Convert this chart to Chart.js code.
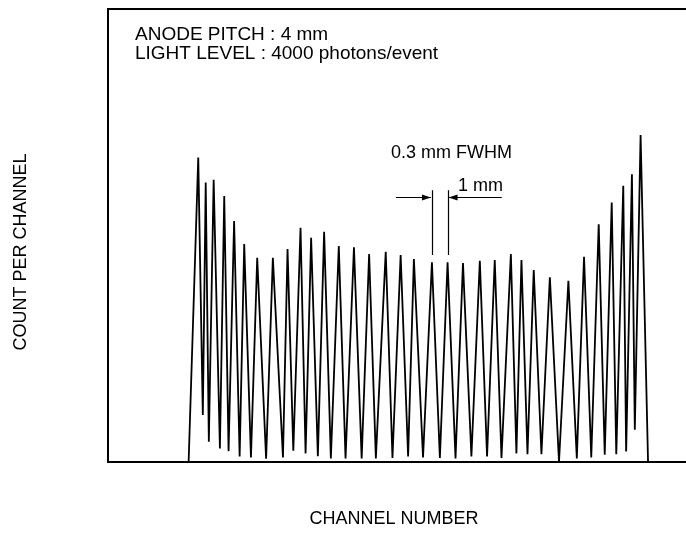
<!DOCTYPE html>
<html>
<head>
<meta charset="utf-8">
<script src="https://cdn.jsdelivr.net/npm/chart.js@4/dist/chart.umd.min.js"></script>
<style>
  html, body { margin: 0; padding: 0; background: #fff; overflow: hidden; }
  canvas { display: block; }
</style>
</head>
<body>
<canvas id="spectrum" width="690" height="536"></canvas>
<script>
const FONT = "'Liberation Sans', Arial, Helvetica, sans-serif"

// channel positions of every turning point of the trace (peaks and valleys)
const channels = [
  33.5, 37.5, 39.4, 40.6, 41.9, 43.9, 46.5, 48.3, 50.1, 52.4,
  54.7, 56.6, 59.4, 62.0, 65.7, 68.5, 72.7, 74.6, 77.0, 80.0,
  82.1, 84.4, 87.2, 89.8, 92.6, 95.9, 98.7, 102.2, 105.4, 108.5,
  111.3, 115.4, 118.2, 121.6, 124.7, 127.1, 130.9, 134.6, 137.9, 141.1,
  144.4, 147.5, 151.0, 154.5, 157.5, 160.7, 163.5, 167.4, 169.7, 171.8,
  174.3, 176.9, 180.1, 183.6, 187.4, 191.3, 194.8, 197.8, 200.8, 203.9,
  206.4, 209.3, 211.2, 214.1, 215.3, 217.7, 218.9, 221.3, 224.4,
]
const counts = [
  0, 672, 104, 617, 45, 623, 30, 587, 24, 532,
  12, 481, 10, 451, 7, 451, 10, 470, 25, 517,
  19, 495, 13, 508, 8, 477, 8, 474, 8, 459,
  8, 464, 9, 457, 12, 448, 10, 441, 9, 441,
  8, 439, 12, 444, 12, 446, 9, 459, 19, 446,
  17, 424, 17, 408, 0, 400, 8, 453, 10, 525,
  16, 573, 17, 610, 23, 635, 71, 722, 0,
]

// FWHM marker: two neighbouring peaks and the arrows pointing at them
const markerChannels = [134.6, 141.1]
const markerRange = [457, 600]
const arrowLevel = 584
const arrowTails = [119.6, 163.6]

const headerLines = ['ANODE PITCH : 4 mm', 'LIGHT LEVEL : 4000 photons/event']

const framePlugin = {
  id: 'frame',
  afterDraw: chart => {
    const { ctx, chartArea: a, scales } = chart
    const x = scales.x
    const y = scales.y
    ctx.save()
    ctx.strokeStyle = '#000'
    ctx.lineWidth = 2
    ctx.strokeRect(a.left, a.top, a.right - a.left, a.bottom - a.top)

    // marker lines
    ctx.lineWidth = 1.2
    markerChannels.forEach(c => {
      const px = Math.round(x.getPixelForValue(c)) + 0.5
      ctx.beginPath()
      ctx.moveTo(px, y.getPixelForValue(markerRange[1]))
      ctx.lineTo(px, y.getPixelForValue(markerRange[0]))
      ctx.stroke()
    })
    const ay = Math.round(y.getPixelForValue(arrowLevel)) + 0.5
    arrowTails.forEach((c, i) => {
      const tail = x.getPixelForValue(c)
      const tip = x.getPixelForValue(markerChannels[i]) + (i === 0 ? -1 : 1)
      const dir = tip > tail ? 1 : -1
      ctx.beginPath()
      ctx.moveTo(tail, ay)
      ctx.lineTo(tip, ay)
      ctx.stroke()
      ctx.beginPath()
      ctx.moveTo(tip, ay)
      ctx.lineTo(tip - dir * 9, ay - 3)
      ctx.lineTo(tip - dir * 9, ay + 3)
      ctx.closePath()
      ctx.fillStyle = '#000'
      ctx.fill()
    })

    // texts
    ctx.fillStyle = '#000'
    ctx.textBaseline = 'alphabetic'
    ctx.textAlign = 'left'
    ctx.font = '19px ' + FONT
    ctx.fillText(headerLines[0], 135, 40)
    ctx.fillText(headerLines[1], 135, 59)
    ctx.font = '18px ' + FONT
    ctx.fillText('0.3 mm FWHM', 391, 158)
    ctx.fillText('1 mm', 458, 191)

    ctx.font = '18px ' + FONT
    ctx.textAlign = 'center'
    ctx.fillText('CHANNEL NUMBER', 394, 524)
    ctx.translate(26, 252)
    ctx.rotate(-Math.PI / 2)
    ctx.fillText('COUNT PER CHANNEL', 0, 0)
    ctx.restore()
  },
}

const ctxSpectrum = document.getElementById('spectrum').getContext('2d')
const configSpectrum = {
  type: 'line',
  data: {
    datasets: [
      {
        data: channels.map((c, i) => ({ x: c, y: counts[i] })),
        borderColor: '#000',
        borderWidth: 1.8,
        pointRadius: 0,
        tension: 0,
        fill: false,
      },
    ],
  },
  options: {
    responsive: false,
    animation: false,
    layout: { padding: { left: 108, top: 9, right: 2, bottom: 74 } },
    plugins: {
      legend: { display: false },
      tooltip: { enabled: false },
    },
    scales: {
      x: { type: 'linear', min: 0, max: 241, display: false },
      y: { min: 0, max: 1000, display: false },
    },
  },
  plugins: [framePlugin],
}
const spectrumChart = new Chart(ctxSpectrum, configSpectrum)
</script>
</body>
</html>
